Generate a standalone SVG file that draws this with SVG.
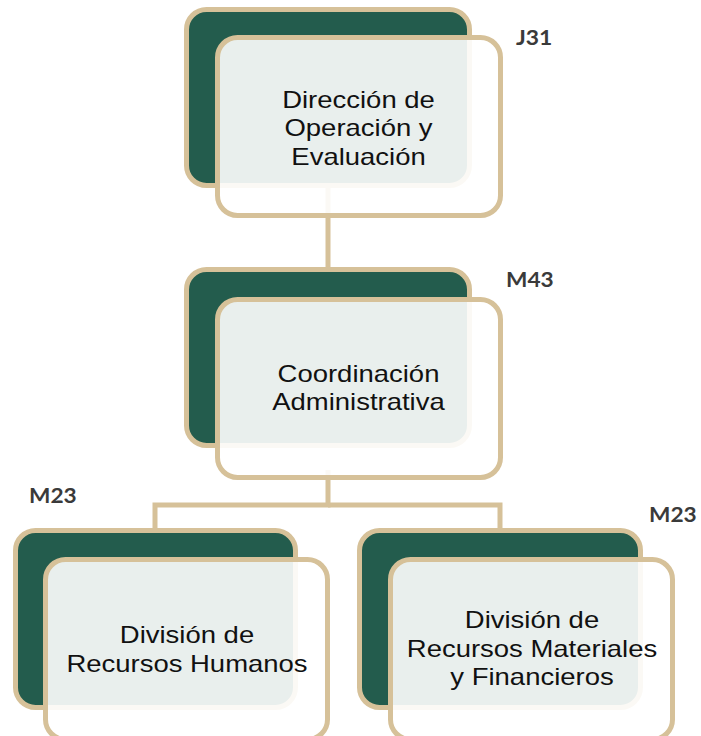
<svg xmlns="http://www.w3.org/2000/svg" width="701" height="736" viewBox="0 0 701 736">
<style>
.back{fill:#235C4D;stroke:#D6C199;stroke-width:5}
.front{fill:#FFFFFF;fill-opacity:0.9;stroke:#D6C199;stroke-width:5}
.t{font-family:"Liberation Sans",Arial,sans-serif;font-size:24px;fill:#111;text-anchor:middle}
.lbl{font-family:Lato,"Liberation Sans",sans-serif;font-weight:bold;font-size:21px;fill:#3A3A3A}
.conn{fill:none;stroke:#D6C199;stroke-width:5}
</style>
<rect width="701" height="736" fill="#FFFFFF"/>
<g id="connectors">
<path class="conn" d="M328 180 V270"/>
<path class="conn" d="M328 470 V505 H155 V531"/>
<path class="conn" d="M328 505 H500 V531"/>
</g>
<g id="node-j31">
<rect class="back" x="186.5" y="9.5" width="283" height="176" rx="20"/>
<rect class="front" x="217.5" y="37.5" width="283" height="178" rx="20"/>
<g transform="translate(358.5,0) scale(1.145,1)">
<text class="t" x="0" y="108">Dirección de</text>
<text class="t" x="0" y="136.5">Operación y</text>
<text class="t" x="0" y="165">Evaluación</text>
</g>
<text class="lbl" transform="translate(516,45) scale(1.09,1)">J31</text>
</g>
<g id="node-m43">
<rect class="back" x="186.5" y="269.5" width="283" height="176" rx="20"/>
<rect class="front" x="217.5" y="299.5" width="283" height="178" rx="20"/>
<g transform="translate(358.5,0) scale(1.145,1)">
<text class="t" x="0" y="382">Coordinación</text>
<text class="t" x="0" y="410">Administrativa</text>
</g>
<text class="lbl" transform="translate(506,287) scale(1.08,1)">M43</text>
</g>
<g id="node-rh">
<rect class="back" x="15.5" y="530.5" width="280" height="177" rx="20"/>
<rect class="front" x="45.5" y="559.5" width="282" height="180" rx="20"/>
<g transform="translate(187,0) scale(1.145,1)">
<text class="t" x="0" y="643">División de</text>
<text class="t" x="0" y="672">Recursos Humanos</text>
</g>
<text class="lbl" transform="translate(29,503) scale(1.08,1)">M23</text>
</g>
<g id="node-rmf">
<rect class="back" x="359.5" y="530.5" width="281" height="177" rx="20"/>
<rect class="front" x="390.5" y="559.5" width="282" height="180" rx="20"/>
<g transform="translate(532,0) scale(1.145,1)">
<text class="t" x="0" y="628">División de</text>
<text class="t" x="0" y="657">Recursos Materiales</text>
<text class="t" x="0" y="685">y Financieros</text>
</g>
<text class="lbl" transform="translate(649,522) scale(1.08,1)">M23</text>
</g>
</svg>
